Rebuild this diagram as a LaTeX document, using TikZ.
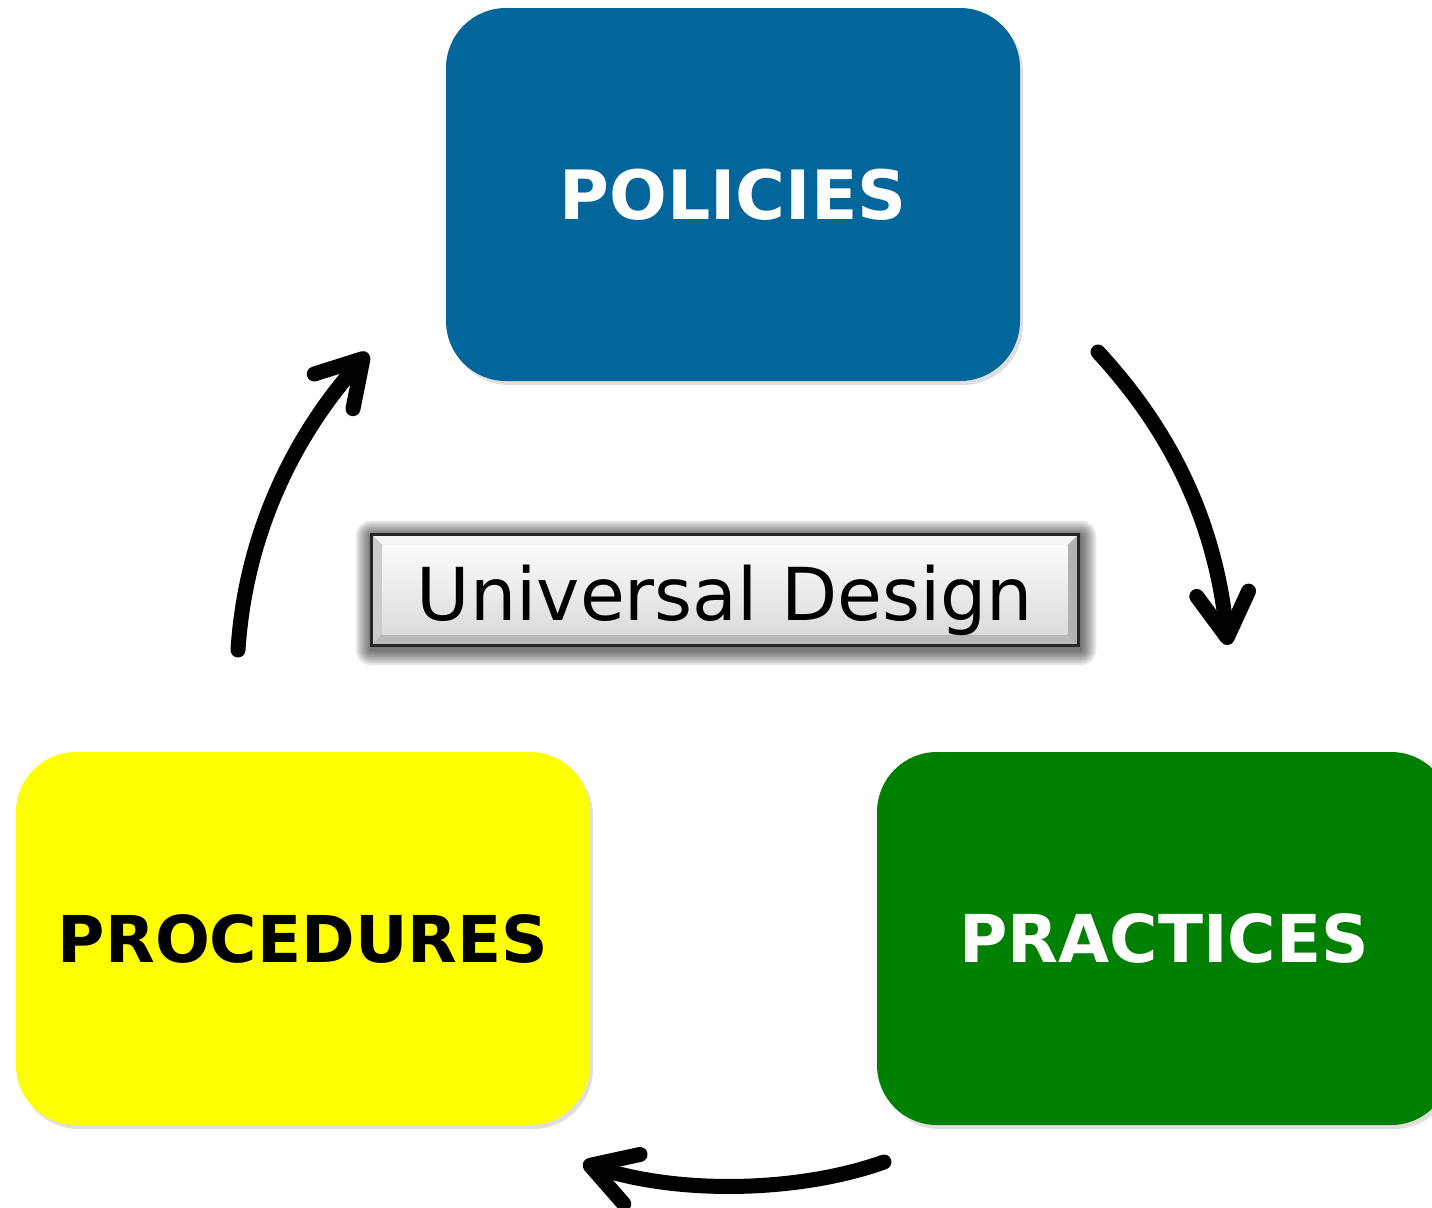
\documentclass[tikz,border=0pt]{standalone}
\usepackage{fontspec}
\setmainfont{DejaVu Sans}
\usetikzlibrary{arrows.meta,shadows,calc}
\definecolor{polblue}{RGB}{2,102,154}
\definecolor{pragreen}{RGB}{0,128,0}
\definecolor{proyellow}{RGB}{255,255,0}
\begin{document}
\begin{tikzpicture}[x=0.5pt,y=-0.5pt,
  card/.style={rounded corners=30pt, minimum width=287pt, minimum height=186.5pt, inner sep=0pt,
    font=\fontsize{33}{40}\selectfont\bfseries,
    drop shadow={opacity=0.25, shadow xshift=1.5pt, shadow yshift=-2pt}},
  flow/.style={line width=7.5pt, line cap=round,
    -{Straight Barb[length=22pt, width=26pt, line cap=round, line join=round]}},
  udlabel/.style={font=\fontsize{36.5}{44}\selectfont, inner sep=0pt, anchor=base}]
\useasboundingbox (0,0) rectangle (1432,1207);

% cards
\node[card, fill=polblue, text=white, font=\fontsize{34}{40}\selectfont\bfseries] (pol) at (733,194.5) {POLICIES};
\node[card, fill=proyellow, text=black, font=\fontsize{32.3}{40}\selectfont\bfseries] (pro) at (303,938.5) {PROCEDURES};
\node[card, fill=pragreen, text=white] (pra) at (1164,938.5) {PRACTICES};

% Universal Design button
\node[minimum width=353pt, minimum height=55pt, inner sep=0pt] (ud) at (725,590) {};
\foreach \d in {16,14,...,2}
  \fill[black, opacity=0.09, rounded corners=\d*0.5pt]
    ([shift={(-\d,-\d+2)}]ud.north west) rectangle ([shift={(\d+2,\d+4)}]ud.south east);
\coordinate (A) at (ud.north west);
\coordinate (B) at (ud.north east);
\coordinate (C) at (ud.south east);
\coordinate (D) at (ud.south west);
\coordinate (a) at ([shift={(11,11)}]ud.north west);
\coordinate (b) at ([shift={(-11,11)}]ud.north east);
\coordinate (c) at ([shift={(-11,-11)}]ud.south east);
\coordinate (d) at ([shift={(11,-11)}]ud.south west);
\fill[gray!6] (A) -- (B) -- (b) -- (a) -- cycle;
\fill[gray!40] (A) -- (a) -- (d) -- (D) -- cycle;
\fill[gray!60] (B) -- (C) -- (c) -- (b) -- cycle;
\fill[gray!55] (D) -- (d) -- (c) -- (C) -- cycle;
\shade[top color=gray!3, bottom color=gray!28] (a) rectangle (c);
\draw[black!85, line width=1.5pt] (A) rectangle (C);
\node[udlabel] (udl) at (725,620) {Universal Design};

% arrows
\coordinate (a1s) at (1098,352);
\coordinate (a1e) at (1228,645);
\coordinate (a2s) at (884,1162);
\coordinate (a2e) at (583,1163);
\coordinate (a3s) at (238,650);
\coordinate (a3e) at (368,353);
\draw[flow] (a1s) .. controls (1170,430) and (1215,520) .. (a1e);
\draw[flow] (a2s) .. controls (800,1192) and (680,1195) .. (a2e);
\draw[flow] (a3s) .. controls (245,540) and (290,440) .. (a3e);
\end{tikzpicture}
\end{document}
